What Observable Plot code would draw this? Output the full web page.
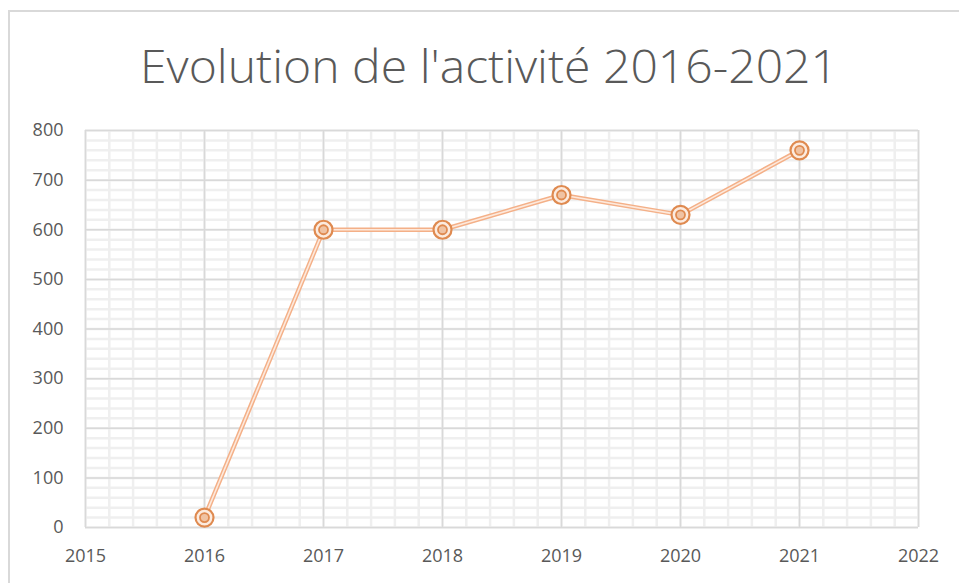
<!DOCTYPE html>
<html><head><meta charset="utf-8">
<script src="https://cdn.jsdelivr.net/npm/d3@7"></script>
<script src="https://cdn.jsdelivr.net/npm/@observablehq/plot@0.6"></script>
<style>
body{margin:0;background:#fff;}
#wrap{position:relative;width:959px;height:583px;overflow:hidden;background:#fff;}
#frame{position:absolute;left:8px;top:10px;width:1000px;height:1000px;border-left:2px solid #d9d9d9;border-top:2px solid #d9d9d9;}
#titlesvg{position:absolute;left:0;top:0;}
#chart{position:absolute;left:0;top:115px;}
</style>
</head><body>
<div id="wrap">
  <div id="frame"></div>
  <svg id="titlesvg" width="959" height="115">
    <text id="title" x="489" y="83" text-anchor="middle" fill="#595959" font-family="'Open Sans','Liberation Sans',sans-serif" font-weight="300" font-size="46" textLength="698" lengthAdjust="spacingAndGlyphs">Evolution de l'activité 2016-2021</text>
  </svg>
  <div id="chart"></div>
</div>
<script>
const years = [2016, 2017, 2018, 2019, 2020, 2021];
const activite = [20, 600, 600, 670, 630, 760];
const xTicks = [2015, 2016, 2017, 2018, 2019, 2020, 2021, 2022];
const yTicks = [0, 100, 200, 300, 400, 500, 600, 700, 800];
const xMinor = d3.range(0, 36).map(i => 2015 + i * 0.2);
const yMinor = d3.range(0, 41).map(i => i * 20);

const data = years.map((y, i) => ({year: y, value: activite[i]}));

const chart = Plot.plot({
  width: 959,
  height: 468,
  marginTop: 15,
  marginBottom: 56,
  marginLeft: 85,
  marginRight: 41,
  style: {color: "#595959", fontFamily: "'Open Sans', 'Liberation Sans', Arial, sans-serif", fontSize: "18px", background: "transparent"},
  x: {domain: [2015, 2022], axis: null},
  y: {domain: [0, 800], axis: null},
  marks: [
    Plot.ruleX(xMinor, {stroke: "#efefef", strokeWidth: 2.5}),
    Plot.ruleY(yMinor, {stroke: "#efefef", strokeWidth: 2.5}),
    Plot.ruleX(xTicks, {stroke: "#d9d9d9", strokeWidth: 1.5}),
    Plot.ruleY(yTicks, {stroke: "#d9d9d9", strokeWidth: 1.5}),
    Plot.axisX(xTicks, {label: null, tickSize: 0, tickPadding: 22, tickFormat: "d", fontSize: 18, fill: "#595959"}),
    Plot.axisY(yTicks, {label: null, tickSize: 0, tickPadding: 22, tickFormat: "d", fontSize: 18, fill: "#595959"}),
    Plot.line(data, {x: "year", y: "value", stroke: "#f4b088", strokeWidth: 4.5}),
    Plot.line(data, {x: "year", y: "value", stroke: "#fde9dc", strokeWidth: 1.6}),
    Plot.dot(data, {x: "year", y: "value", r: 9, fill: "#fcebdf", stroke: "#df8a50", strokeWidth: 2.2}),
    Plot.dot(data, {x: "year", y: "value", r: 4.5, fill: "#f0c3a3", stroke: "#df8a50", strokeWidth: 1.8})
  ]
});
document.getElementById("chart").appendChild(chart);
</script>
</body></html>
